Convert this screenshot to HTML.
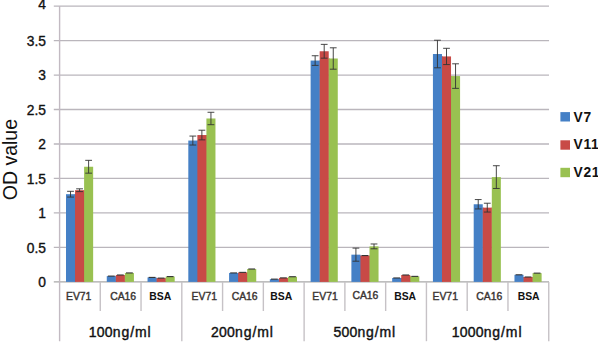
<!DOCTYPE html>
<html><head><meta charset="utf-8"><title>chart</title>
<style>html,body{margin:0;padding:0;background:#fff}body{width:598px;height:343px;overflow:hidden}svg{display:block}text{font-family:"Liberation Sans",sans-serif}</style></head><body>
<svg width="598" height="343" viewBox="0 0 598 343">
<rect width="598" height="343" fill="#fff"/>
<line x1="53.8" y1="281.9" x2="549.04" y2="281.9" stroke="#a8a8a8" stroke-width="1.3"/>
<line x1="53.8" y1="247.42" x2="549.04" y2="247.42" stroke="#bab6bc" stroke-width="1.3"/>
<line x1="53.8" y1="212.95" x2="549.04" y2="212.95" stroke="#bab6bc" stroke-width="1.3"/>
<line x1="53.8" y1="178.47" x2="549.04" y2="178.47" stroke="#bab6bc" stroke-width="1.3"/>
<line x1="53.8" y1="144" x2="549.04" y2="144" stroke="#bab6bc" stroke-width="1.3"/>
<line x1="53.8" y1="109.52" x2="549.04" y2="109.52" stroke="#bab6bc" stroke-width="1.3"/>
<line x1="53.8" y1="75.05" x2="549.04" y2="75.05" stroke="#bab6bc" stroke-width="1.3"/>
<line x1="53.8" y1="40.57" x2="549.04" y2="40.57" stroke="#bab6bc" stroke-width="1.3"/>
<line x1="53.8" y1="6.1" x2="549.04" y2="6.1" stroke="#bab6bc" stroke-width="1.3"/>
<line x1="59.6" y1="6.1" x2="59.6" y2="341.2" stroke="#c2bac2" stroke-width="1.4"/>
<line x1="100.27" y1="281.9" x2="100.27" y2="311" stroke="#c6c2c6" stroke-width="1.4"/>
<line x1="141.04" y1="281.9" x2="141.04" y2="311" stroke="#c6c2c6" stroke-width="1.4"/>
<line x1="181.81" y1="281.9" x2="181.81" y2="341.2" stroke="#c6c2c6" stroke-width="1.4"/>
<line x1="222.58" y1="281.9" x2="222.58" y2="311" stroke="#c6c2c6" stroke-width="1.4"/>
<line x1="263.35" y1="281.9" x2="263.35" y2="311" stroke="#c6c2c6" stroke-width="1.4"/>
<line x1="304.12" y1="281.9" x2="304.12" y2="341.2" stroke="#c6c2c6" stroke-width="1.4"/>
<line x1="344.89" y1="281.9" x2="344.89" y2="311" stroke="#c6c2c6" stroke-width="1.4"/>
<line x1="385.66" y1="281.9" x2="385.66" y2="311" stroke="#c6c2c6" stroke-width="1.4"/>
<line x1="426.43" y1="281.9" x2="426.43" y2="341.2" stroke="#c6c2c6" stroke-width="1.4"/>
<line x1="467.2" y1="281.9" x2="467.2" y2="311" stroke="#c6c2c6" stroke-width="1.4"/>
<line x1="507.97" y1="281.9" x2="507.97" y2="311" stroke="#c6c2c6" stroke-width="1.4"/>
<line x1="548.74" y1="281.9" x2="548.74" y2="341.2" stroke="#c6c2c6" stroke-width="1.4"/>
<rect x="66" y="194.2" width="9.05" height="87.7" fill="#4580c6"/>
<rect x="74.65" y="194.2" width="1.4" height="87.7" fill="#4580c6"/>
<rect x="75.05" y="190.2" width="9.05" height="91.7" fill="#c84a46"/>
<rect x="83.7" y="190.2" width="1.4" height="91.7" fill="#c84a46"/>
<rect x="84.1" y="166.75" width="9.05" height="115.15" fill="#99c151"/>
<rect x="106.77" y="276.11" width="9.05" height="5.79" fill="#4580c6"/>
<rect x="115.42" y="276.11" width="1.4" height="5.79" fill="#4580c6"/>
<rect x="115.82" y="275" width="9.05" height="6.89" fill="#c84a46"/>
<rect x="124.47" y="275" width="1.4" height="6.89" fill="#c84a46"/>
<rect x="124.87" y="272.94" width="9.05" height="8.96" fill="#99c151"/>
<rect x="147.54" y="277.42" width="9.05" height="4.48" fill="#4580c6"/>
<rect x="156.19" y="278.11" width="1.4" height="3.79" fill="#4580c6"/>
<rect x="156.59" y="278.11" width="9.05" height="3.79" fill="#c84a46"/>
<rect x="165.24" y="278.11" width="1.4" height="3.79" fill="#c84a46"/>
<rect x="165.64" y="276.59" width="9.05" height="5.31" fill="#99c151"/>
<rect x="188.31" y="140.55" width="9.05" height="141.35" fill="#4580c6"/>
<rect x="196.96" y="140.55" width="1.4" height="141.35" fill="#4580c6"/>
<rect x="197.36" y="135.04" width="9.05" height="146.86" fill="#c84a46"/>
<rect x="206.01" y="135.04" width="1.4" height="146.86" fill="#c84a46"/>
<rect x="206.41" y="118.49" width="9.05" height="163.41" fill="#99c151"/>
<rect x="229.08" y="272.94" width="9.05" height="8.96" fill="#4580c6"/>
<rect x="237.73" y="272.94" width="1.4" height="8.96" fill="#4580c6"/>
<rect x="238.13" y="272.38" width="9.05" height="9.52" fill="#c84a46"/>
<rect x="246.78" y="272.38" width="1.4" height="9.52" fill="#c84a46"/>
<rect x="247.18" y="269.01" width="9.05" height="12.89" fill="#99c151"/>
<rect x="269.85" y="279.14" width="9.05" height="2.76" fill="#4580c6"/>
<rect x="278.5" y="279.14" width="1.4" height="2.76" fill="#4580c6"/>
<rect x="278.9" y="277.9" width="9.05" height="4" fill="#c84a46"/>
<rect x="287.55" y="277.9" width="1.4" height="4" fill="#c84a46"/>
<rect x="287.95" y="276.73" width="9.05" height="5.17" fill="#99c151"/>
<rect x="310.62" y="60.57" width="9.05" height="221.33" fill="#4580c6"/>
<rect x="319.27" y="60.57" width="1.4" height="221.33" fill="#4580c6"/>
<rect x="319.67" y="51.26" width="9.05" height="230.64" fill="#c84a46"/>
<rect x="328.32" y="58.5" width="1.4" height="223.4" fill="#c84a46"/>
<rect x="328.72" y="58.5" width="9.05" height="223.4" fill="#99c151"/>
<rect x="351.39" y="254.66" width="9.05" height="27.24" fill="#4580c6"/>
<rect x="360.04" y="255.56" width="1.4" height="26.34" fill="#4580c6"/>
<rect x="360.44" y="255.56" width="9.05" height="26.34" fill="#c84a46"/>
<rect x="369.09" y="255.56" width="1.4" height="26.34" fill="#c84a46"/>
<rect x="369.49" y="246.39" width="9.05" height="35.51" fill="#99c151"/>
<rect x="392.16" y="277.97" width="9.05" height="3.93" fill="#4580c6"/>
<rect x="400.81" y="277.97" width="1.4" height="3.93" fill="#4580c6"/>
<rect x="401.21" y="275" width="9.05" height="6.89" fill="#c84a46"/>
<rect x="409.86" y="276.38" width="1.4" height="5.52" fill="#c84a46"/>
<rect x="410.26" y="276.38" width="9.05" height="5.52" fill="#99c151"/>
<rect x="432.93" y="54.02" width="9.05" height="227.88" fill="#4580c6"/>
<rect x="441.58" y="56.43" width="1.4" height="225.47" fill="#4580c6"/>
<rect x="441.98" y="56.43" width="9.05" height="225.47" fill="#c84a46"/>
<rect x="450.63" y="76.08" width="1.4" height="205.82" fill="#c84a46"/>
<rect x="451.03" y="76.08" width="9.05" height="205.82" fill="#99c151"/>
<rect x="473.7" y="204.26" width="9.05" height="77.64" fill="#4580c6"/>
<rect x="482.35" y="207.64" width="1.4" height="74.26" fill="#4580c6"/>
<rect x="482.75" y="207.64" width="9.05" height="74.26" fill="#c84a46"/>
<rect x="491.4" y="207.64" width="1.4" height="74.26" fill="#c84a46"/>
<rect x="491.8" y="177.1" width="9.05" height="104.8" fill="#99c151"/>
<rect x="514.47" y="274.8" width="9.05" height="7.1" fill="#4580c6"/>
<rect x="523.12" y="277" width="1.4" height="4.9" fill="#4580c6"/>
<rect x="523.52" y="277" width="9.05" height="4.9" fill="#c84a46"/>
<rect x="532.17" y="277" width="1.4" height="4.9" fill="#c84a46"/>
<rect x="532.57" y="273.14" width="9.05" height="8.76" fill="#99c151"/>
<path d="M70.53 191.3V197.09M67.12 191.3H73.93M67.12 197.09H73.93" stroke="#333" stroke-width="0.9" fill="none"/>
<path d="M79.58 188.82V191.58M76.17 188.82H82.98M76.17 191.58H82.98" stroke="#333" stroke-width="0.9" fill="none"/>
<path d="M88.62 160.34V173.17M85.22 160.34H92.03M85.22 173.17H92.03" stroke="#333" stroke-width="0.9" fill="none"/>
<path d="M107.89 276.11H114.7" stroke="#333" stroke-width="1.1" fill="none"/>
<path d="M116.94 275H123.75" stroke="#333" stroke-width="1.1" fill="none"/>
<path d="M126 272.94H132.8" stroke="#333" stroke-width="1.1" fill="none"/>
<path d="M148.66 277.42H155.47" stroke="#333" stroke-width="1.1" fill="none"/>
<path d="M157.72 278.11H164.52" stroke="#333" stroke-width="1.1" fill="none"/>
<path d="M166.76 276.59H173.56" stroke="#333" stroke-width="1.1" fill="none"/>
<path d="M192.84 136.07V145.03M189.44 136.07H196.24M189.44 145.03H196.24" stroke="#333" stroke-width="0.9" fill="none"/>
<path d="M201.89 130.21V139.86M198.49 130.21H205.29M198.49 139.86H205.29" stroke="#333" stroke-width="0.9" fill="none"/>
<path d="M210.94 112.28V124.69M207.53 112.28H214.34M207.53 124.69H214.34" stroke="#333" stroke-width="0.9" fill="none"/>
<path d="M230.2 272.94H237" stroke="#333" stroke-width="1.1" fill="none"/>
<path d="M239.25 272.38H246.06" stroke="#333" stroke-width="1.1" fill="none"/>
<path d="M248.3 269.01H255.1" stroke="#333" stroke-width="1.1" fill="none"/>
<path d="M270.98 279.14H277.77" stroke="#333" stroke-width="1.1" fill="none"/>
<path d="M280.03 277.9H286.82" stroke="#333" stroke-width="1.1" fill="none"/>
<path d="M289.08 276.73H295.88" stroke="#333" stroke-width="1.1" fill="none"/>
<path d="M315.14 55.74V65.4M311.75 55.74H318.54M311.75 65.4H318.54" stroke="#333" stroke-width="0.9" fill="none"/>
<path d="M324.19 44.37V58.16M320.8 44.37H327.59M320.8 58.16H327.59" stroke="#333" stroke-width="0.9" fill="none"/>
<path d="M333.25 47.81V69.19M329.85 47.81H336.64M329.85 69.19H336.64" stroke="#333" stroke-width="0.9" fill="none"/>
<path d="M355.92 248.11V261.21M352.52 248.11H359.31M352.52 261.21H359.31" stroke="#333" stroke-width="0.9" fill="none"/>
<path d="M361.57 255.56H368.37" stroke="#333" stroke-width="1.1" fill="none"/>
<path d="M374.02 243.98V248.8M370.62 243.98H377.42M370.62 248.8H377.42" stroke="#333" stroke-width="0.9" fill="none"/>
<path d="M393.29 277.97H400.08" stroke="#333" stroke-width="1.1" fill="none"/>
<path d="M402.34 275H409.13" stroke="#333" stroke-width="1.1" fill="none"/>
<path d="M411.39 276.38H418.19" stroke="#333" stroke-width="1.1" fill="none"/>
<path d="M437.45 40.23V67.81M434.06 40.23H440.85M434.06 67.81H440.85" stroke="#333" stroke-width="0.9" fill="none"/>
<path d="M446.5 48.3V64.57M443.11 48.3H449.9M443.11 64.57H449.9" stroke="#333" stroke-width="0.9" fill="none"/>
<path d="M455.56 63.81V88.36M452.16 63.81H458.95M452.16 88.36H458.95" stroke="#333" stroke-width="0.9" fill="none"/>
<path d="M478.23 199.57V208.95M474.83 199.57H481.62M474.83 208.95H481.62" stroke="#333" stroke-width="0.9" fill="none"/>
<path d="M487.28 203.23V212.05M483.88 203.23H490.68M483.88 212.05H490.68" stroke="#333" stroke-width="0.9" fill="none"/>
<path d="M496.33 165.72V188.47M492.93 165.72H499.73M492.93 188.47H499.73" stroke="#333" stroke-width="0.9" fill="none"/>
<path d="M515.6 274.8H522.39" stroke="#333" stroke-width="1.1" fill="none"/>
<path d="M524.64 277H531.44" stroke="#333" stroke-width="1.1" fill="none"/>
<path d="M533.7 273.14H540.5" stroke="#333" stroke-width="1.1" fill="none"/>
<text x="46" y="287.2" text-anchor="end" font-size="13.8" fill="#111" stroke="#111" stroke-width="0.35">0</text>
<text x="46" y="252.72" text-anchor="end" font-size="13.8" fill="#111" stroke="#111" stroke-width="0.35">0.5</text>
<text x="46" y="218.25" text-anchor="end" font-size="13.8" fill="#111" stroke="#111" stroke-width="0.35">1</text>
<text x="46" y="183.77" text-anchor="end" font-size="13.8" fill="#111" stroke="#111" stroke-width="0.35">1.5</text>
<text x="46" y="149.3" text-anchor="end" font-size="13.8" fill="#111" stroke="#111" stroke-width="0.35">2</text>
<text x="46" y="114.82" text-anchor="end" font-size="13.8" fill="#111" stroke="#111" stroke-width="0.35">2.5</text>
<text x="46" y="80.35" text-anchor="end" font-size="13.8" fill="#111" stroke="#111" stroke-width="0.35">3</text>
<text x="46" y="45.87" text-anchor="end" font-size="13.8" fill="#111" stroke="#111" stroke-width="0.35">3.5</text>
<text x="46" y="8.9" text-anchor="end" font-size="13.8" fill="#111" stroke="#111" stroke-width="0.35">4</text>
<text x="78.69" y="300.1" text-anchor="middle" font-size="10.4" fill="#3a3432" stroke="#3a3432" stroke-width="0.4">EV71</text>
<text x="123.16" y="300.1" text-anchor="middle" font-size="10.4" fill="#3a3432" stroke="#3a3432" stroke-width="0.4">CA16</text>
<text x="160.32" y="300.1" text-anchor="middle" font-size="10.4" font-weight="bold" fill="#111">BSA</text>
<text x="204.3" y="300.1" text-anchor="middle" font-size="10.4" fill="#3a3432" stroke="#3a3432" stroke-width="0.4">EV71</text>
<text x="244.66" y="300.1" text-anchor="middle" font-size="10.4" fill="#3a3432" stroke="#3a3432" stroke-width="0.4">CA16</text>
<text x="281.34" y="300.1" text-anchor="middle" font-size="10.4" font-weight="bold" fill="#111">BSA</text>
<text x="325" y="300.1" text-anchor="middle" font-size="10.4" fill="#3a3432" stroke="#3a3432" stroke-width="0.4">EV71</text>
<text x="365.38" y="299.3" text-anchor="middle" font-size="10.4" fill="#3a3432" stroke="#3a3432" stroke-width="0.4">CA16</text>
<text x="405.15" y="300.1" text-anchor="middle" font-size="10.4" font-weight="bold" fill="#111">BSA</text>
<text x="445.22" y="300.1" text-anchor="middle" font-size="10.4" fill="#3a3432" stroke="#3a3432" stroke-width="0.4">EV71</text>
<text x="489.29" y="300.1" text-anchor="middle" font-size="10.4" fill="#3a3432" stroke="#3a3432" stroke-width="0.4">CA16</text>
<text x="528.66" y="300.1" text-anchor="middle" font-size="10.4" font-weight="bold" fill="#111">BSA</text>
<text x="120.16" y="336.7" text-anchor="middle" font-size="14" fill="#111" stroke="#111" stroke-width="0.4"><tspan letter-spacing="0.2">100</tspan><tspan letter-spacing="0.9">ng/ml</tspan></text>
<text x="242.47" y="336.7" text-anchor="middle" font-size="14" fill="#111" stroke="#111" stroke-width="0.4"><tspan letter-spacing="0.2">200</tspan><tspan letter-spacing="0.9">ng/ml</tspan></text>
<text x="364.78" y="336.7" text-anchor="middle" font-size="14" fill="#111" stroke="#111" stroke-width="0.4"><tspan letter-spacing="0.2">500</tspan><tspan letter-spacing="0.9">ng/ml</tspan></text>
<text x="487.08" y="336.7" text-anchor="middle" font-size="14" fill="#111" stroke="#111" stroke-width="0.4"><tspan letter-spacing="0.2">1000</tspan><tspan letter-spacing="0.9">ng/ml</tspan></text>
<text transform="translate(16.8,159.6) rotate(-90) scale(0.93,1)" text-anchor="middle" font-size="21" fill="#111">OD value</text>
<rect x="560.4" y="112.1" width="9.6" height="9.4" fill="#4580c6"/>
<text x="573.6" y="121.5" font-size="13.8" font-weight="bold" letter-spacing="0.6" fill="#111">V7</text>
<rect x="560.4" y="140.3" width="9.6" height="9.4" fill="#c84a46"/>
<text x="573.6" y="149.1" font-size="13.8" font-weight="bold" letter-spacing="0.6" fill="#111">V11</text>
<rect x="560.4" y="167.8" width="9.6" height="9.4" fill="#99c151"/>
<text x="573.6" y="176.7" font-size="13.8" font-weight="bold" letter-spacing="0.6" fill="#111">V21</text>
</svg></body></html>
